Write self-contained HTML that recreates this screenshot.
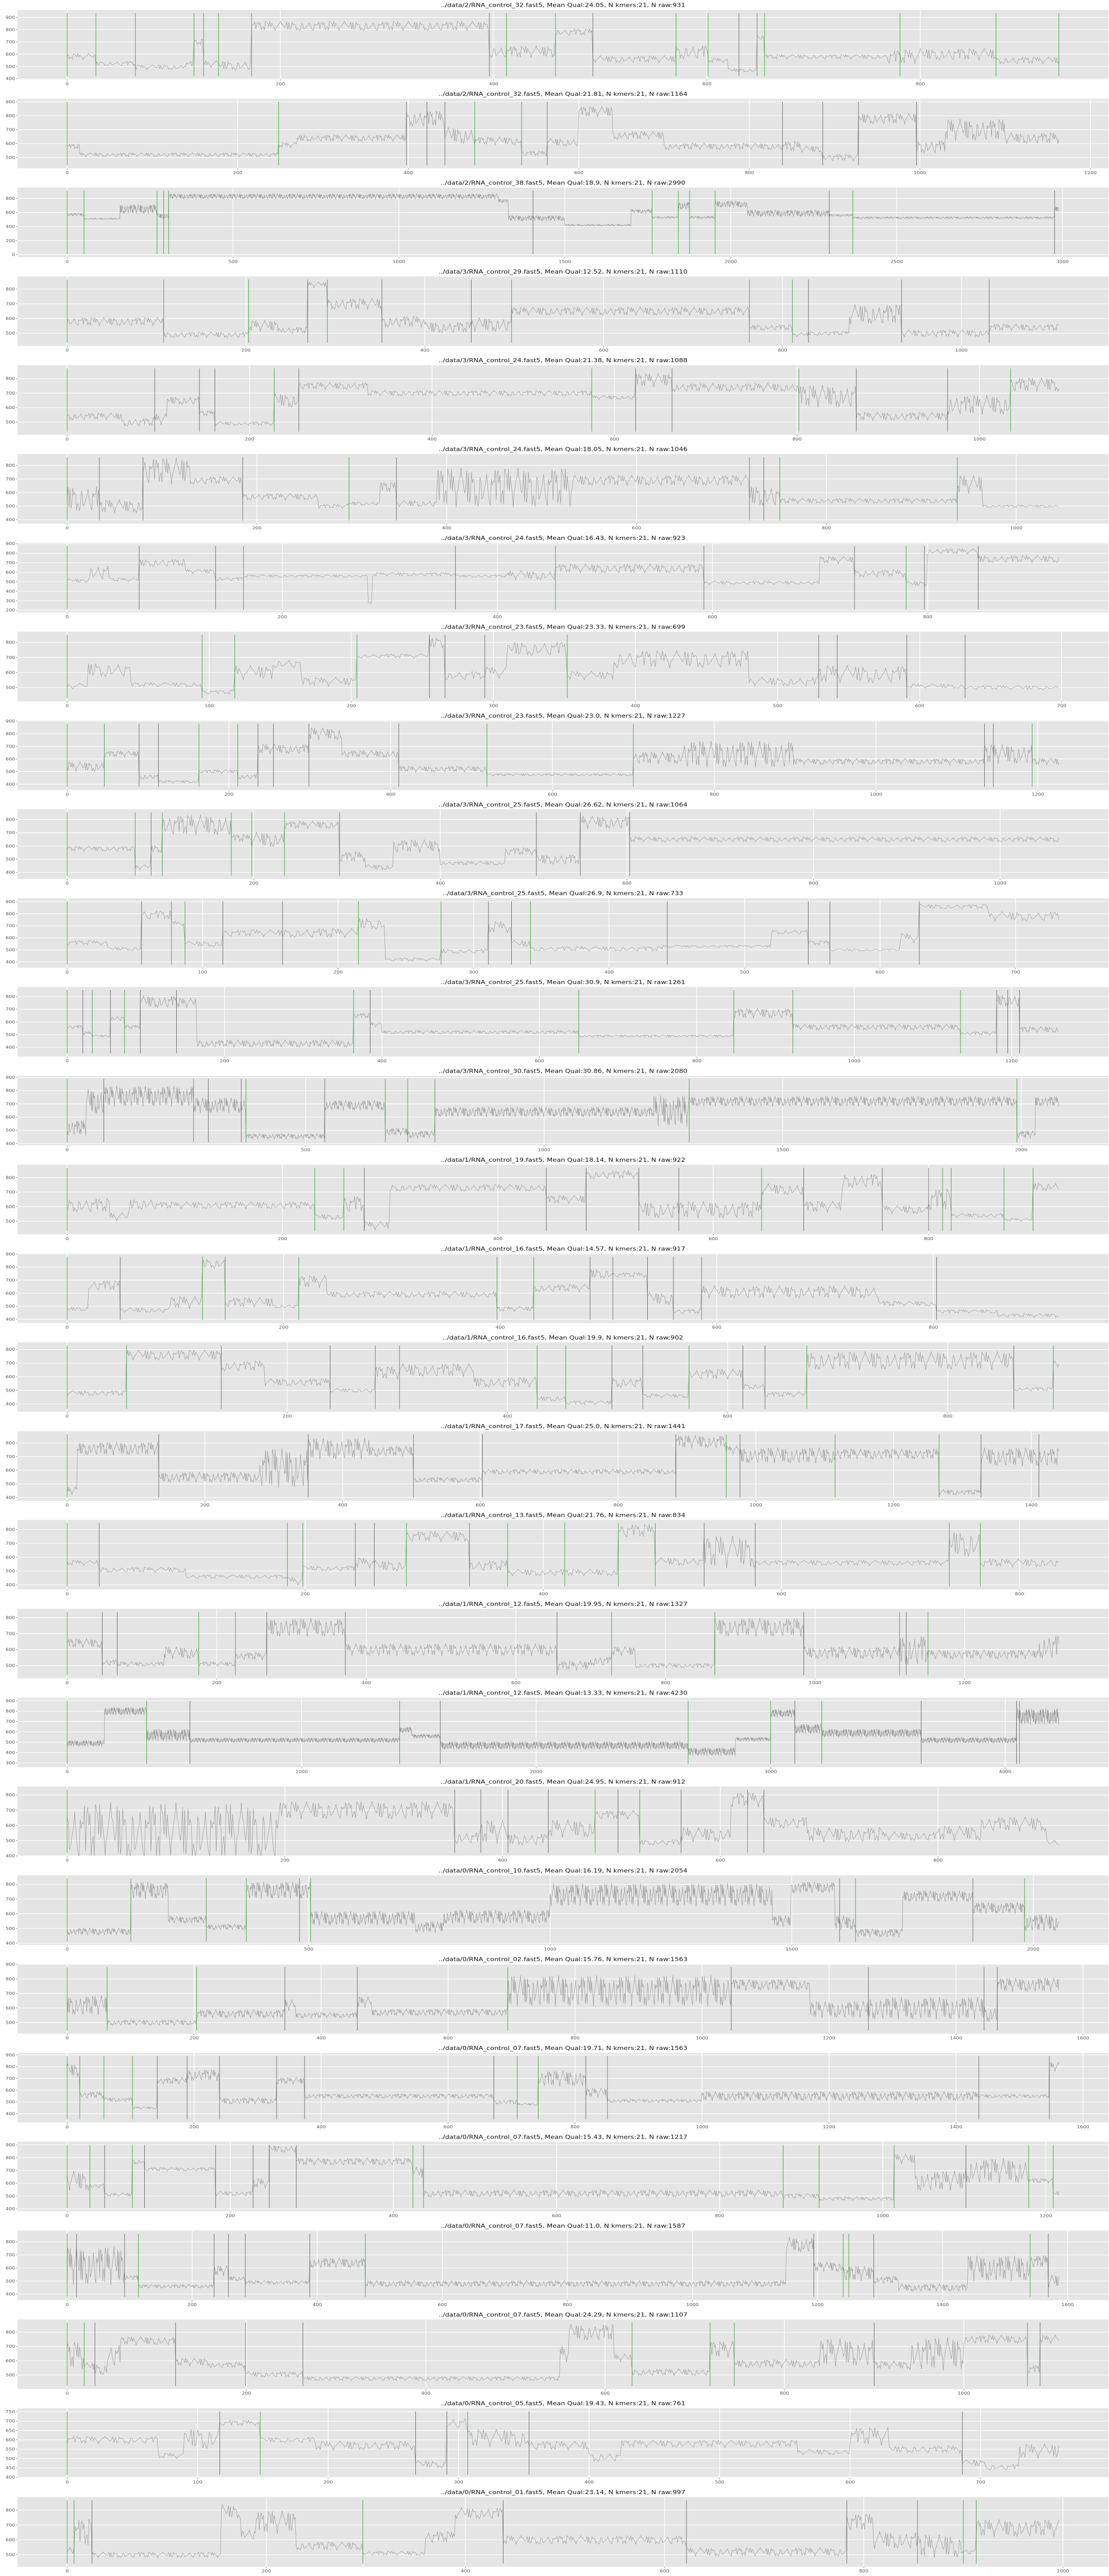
<!DOCTYPE html>
<html><head><meta charset="utf-8"><title>Raw signal per read</title>
<style>
html,body{margin:0;padding:0;background:#fff;overflow:hidden;width:100%;height:100%;}
#wrap{position:fixed;left:0;top:0;width:100vw;height:100vh;overflow:hidden;}
svg{display:block;width:100%;height:100%;}
.tl{font-family:"DejaVu Sans","Liberation Sans",sans-serif;font-size:9.5px;fill:#555;}
.tt{font-family:"DejaVu Sans","Liberation Sans",sans-serif;font-size:13px;fill:#111;}
</style></head>
<body>
<div id="wrap">
<svg id="fig" xmlns="http://www.w3.org/2000/svg" viewBox="0 0 2152 6256" preserveAspectRatio="none"></svg>
</div>
<script>
const titles=[
"../data/2/RNA_control_32.fast5, Mean Qual:24.05, N kmers:21, N raw:931",
"../data/2/RNA_control_32.fast5, Mean Qual:21.81, N kmers:21, N raw:1164",
"../data/2/RNA_control_38.fast5, Mean Qual:18.9, N kmers:21, N raw:2990",
"../data/3/RNA_control_29.fast5, Mean Qual:12.52, N kmers:21, N raw:1110",
"../data/3/RNA_control_24.fast5, Mean Qual:21.38, N kmers:21, N raw:1088",
"../data/3/RNA_control_24.fast5, Mean Qual:18.05, N kmers:21, N raw:1046",
"../data/3/RNA_control_24.fast5, Mean Qual:16.43, N kmers:21, N raw:923",
"../data/3/RNA_control_23.fast5, Mean Qual:23.33, N kmers:21, N raw:699",
"../data/3/RNA_control_23.fast5, Mean Qual:23.0, N kmers:21, N raw:1227",
"../data/3/RNA_control_25.fast5, Mean Qual:26.62, N kmers:21, N raw:1064",
"../data/3/RNA_control_25.fast5, Mean Qual:26.9, N kmers:21, N raw:733",
"../data/3/RNA_control_25.fast5, Mean Qual:30.9, N kmers:21, N raw:1261",
"../data/3/RNA_control_30.fast5, Mean Qual:30.86, N kmers:21, N raw:2080",
"../data/1/RNA_control_19.fast5, Mean Qual:18.14, N kmers:21, N raw:922",
"../data/1/RNA_control_16.fast5, Mean Qual:14.57, N kmers:21, N raw:917",
"../data/1/RNA_control_16.fast5, Mean Qual:19.9, N kmers:21, N raw:902",
"../data/1/RNA_control_17.fast5, Mean Qual:25.0, N kmers:21, N raw:1441",
"../data/1/RNA_control_13.fast5, Mean Qual:21.76, N kmers:21, N raw:834",
"../data/1/RNA_control_12.fast5, Mean Qual:19.95, N kmers:21, N raw:1327",
"../data/1/RNA_control_12.fast5, Mean Qual:13.33, N kmers:21, N raw:4230",
"../data/1/RNA_control_20.fast5, Mean Qual:24.95, N kmers:21, N raw:912",
"../data/0/RNA_control_10.fast5, Mean Qual:16.19, N kmers:21, N raw:2054",
"../data/0/RNA_control_02.fast5, Mean Qual:15.76, N kmers:21, N raw:1563",
"../data/0/RNA_control_07.fast5, Mean Qual:19.71, N kmers:21, N raw:1563",
"../data/0/RNA_control_07.fast5, Mean Qual:15.43, N kmers:21, N raw:1217",
"../data/0/RNA_control_07.fast5, Mean Qual:11.0, N kmers:21, N raw:1587",
"../data/0/RNA_control_07.fast5, Mean Qual:24.29, N kmers:21, N raw:1107",
"../data/0/RNA_control_05.fast5, Mean Qual:19.43, N kmers:21, N raw:761",
"../data/0/RNA_control_01.fast5, Mean Qual:23.14, N kmers:21, N raw:997"];
const nRaw=[931,1164,2990,1110,1088,1046,923,699,1227,1064,733,1261,2080,922,917,902,1441,834,1327,4230,912,2054,1563,1563,1217,1587,1107,761,997];
const yLow=[420,445,10,435,434,395,210,430,378,375,378,352,410,432,395,365,400,390,440,290,420,410,445,352,405,378,424,414,441];
const yHigh=[935,900,910,865,871,860,876,850,880,853,903,850,888,867,880,830,864,845,835,900,835,840,880,890,900,862,867,752,867];
const boundPos=[
[0,27,64,119,128,142,173,396,412,458,493,571,601,630,647,654,781,871,930],
[0,248,398,422,443,478,533,563,839,886,928,996],
[0,51,271,291,306,1404,1763,1842,1876,1953,2297,2368,2976],
[0,108,203,269,291,352,452,497,763,811,829,933,1031],
[0,96,145,162,227,254,575,623,663,802,865,965,1034],
[0,34,80,185,297,347,719,734,751,938],
[0,67,138,164,361,454,592,732,780,797,847],
[0,95,118,204,255,266,294,352,529,542,591,632],
[0,46,89,113,163,211,236,255,299,410,519,700,1134,1145,1193],
[0,73,90,102,176,198,233,292,503,550,603],
[0,55,77,87,115,159,215,276,311,328,342,443,547,563,629],
[0,20,32,55,73,93,139,364,385,650,847,922,1135,1181,1195,1210],
[0,77,265,296,365,375,540,667,714,771,1304,1991],
[0,230,257,276,445,482,531,568,645,684,757,800,813,821,870,897],
[0,49,125,146,214,397,431,483,504,536,560,586,803],
[0,54,140,239,280,302,427,453,495,523,565,614,634,672,860,896],
[0,133,350,503,603,884,957,977,1115,1266,1327,1411],
[0,27,185,198,242,258,285,338,370,418,463,494,535,578,741,767],
[0,47,67,176,225,267,372,655,728,866,985,1113,1122,1151],
[0,339,524,1418,1591,2648,3000,3103,3218,3642,4048,4061],
[0,356,380,405,442,485,506,526,564,625,640],
[0,132,288,371,481,504,1599,1632,1875,1982],
[0,63,204,343,457,694,1046,1262,1444,1465],
[0,20,58,103,142,189,240,330,374,672,709,742,817,851,1436,1547],
[0,28,46,80,95,182,228,248,281,424,437,878,922,1014,1102,1179,1209],
[0,15,92,114,235,258,285,388,477,1194,1241,1250,1290,1540,1569],
[0,19,31,121,199,263,630,717,744,900,1071,1085],
[0,117,148,267,291,307,354,686],
[0,7,25,297,438,622,783,854,900,913]];
const boundGreen=[
[1,1,1,1,1,1,1,0,1,1,0,1,1,0,1,1,1,1,1],
[1,1,0,0,0,1,1,0,0,0,0,0],
[1,1,1,1,1,0,1,1,1,1,0,1,0],
[1,1,1,0,1,0,0,1,1,1,0,0,0],
[1,0,0,0,1,0,1,0,0,1,0,0,1],
[1,0,0,0,1,0,1,0,1,1],
[1,0,0,1,0,1,0,0,1,0,0],
[1,1,1,1,0,0,0,1,0,0,0,0],
[1,1,0,0,1,1,0,0,0,0,1,1,0,0,1],
[1,1,0,1,1,1,1,0,0,0,0],
[1,0,1,1,0,0,1,1,0,0,1,0,0,0,0],
[1,0,1,0,1,0,0,1,0,1,1,1,1,0,0,0],
[1,0,1,0,0,1,0,1,1,1,1,1],
[1,1,1,0,0,0,0,0,1,0,0,0,1,1,1,1],
[1,0,1,1,1,1,1,0,0,0,0,1,0],
[1,1,0,0,1,1,1,1,0,0,1,0,0,1,0,1],
[1,0,0,1,0,0,1,0,1,1,0,0],
[1,0,1,1,0,0,1,0,1,1,1,1,0,0,1,1],
[1,0,0,1,1,0,0,0,1,1,0,1,0,1],
[1,1,0,1,0,1,1,0,1,0,0,1],
[1,0,0,0,0,1,0,1,0,1,0],
[1,1,1,1,0,1,0,1,0,1],
[1,1,1,0,0,1,0,0,0,0],
[1,1,1,1,0,0,0,0,0,0,1,1,0,1,0,0],
[1,1,0,1,0,0,0,0,0,1,1,1,1,1,0,1,1],
[1,0,0,1,0,0,0,0,1,0,1,1,0,1,0],
[1,1,0,0,1,0,1,1,1,0,1,0],
[1,0,1,0,0,1,0,0],
[1,1,0,1,0,0,0,1,1,1]];
const segStart=[
[0,27,64,110,119,128,142,173,396,458,493,571,601,620,647,654,770,800,871],
[0,15,248,270,398,443,478,533,563,600,640,700,839,860,886,928,996,1030,1100],
[0,51,160,271,306,1300,1330,1500,1700,1763,1842,1876,1953,2050,2297,2368,2976],
[0,108,203,240,269,291,352,400,452,497,763,811,829,875,933,1031],
[0,60,96,110,145,162,227,254,330,575,623,663,802,865,965,1034],
[0,34,80,130,185,265,297,330,347,390,535,719,751,938,965],
[0,20,40,67,110,138,164,280,284,361,410,454,592,700,732,780,800,847],
[0,15,45,95,118,145,165,204,255,266,294,310,352,385,480,529,591,632],
[0,46,89,113,163,211,236,299,340,410,519,700,760,900,1134,1193],
[0,73,90,102,176,198,233,292,320,350,400,470,503,550,603],
[0,30,55,77,87,115,159,215,235,276,311,328,342,440,520,547,563,615,629,680],
[0,20,32,55,73,93,139,165,364,385,400,650,847,922,1135,1181,1210],
[0,40,77,265,375,540,667,714,771,1230,1304,1991,2030],
[0,40,58,80,230,257,276,300,445,482,531,645,684,720,757,800,821,870,897],
[0,20,49,95,125,146,190,214,240,397,431,483,504,536,560,586,750,803,860],
[0,54,140,180,239,280,302,370,427,453,495,523,565,614,634,672,860,896],
[0,15,133,280,350,440,503,603,884,957,977,1115,1266,1327],
[0,27,100,185,198,242,258,285,338,370,463,494,535,578,741,767],
[0,47,67,130,176,225,267,372,655,700,728,760,866,985,1113,1151,1300],
[0,160,339,524,1418,1470,1591,2648,2850,3000,3103,3218,3642,4048],
[0,195,356,380,405,442,485,526,564,610,640,680,750,800,840,900],
[0,132,210,288,371,504,720,780,1000,1460,1499,1590,1632,1730,1875,1982],
[0,63,204,343,360,457,480,694,1046,1170,1262,1444,1465],
[0,20,58,103,142,189,240,330,374,672,709,742,817,851,1000,1436,1547],
[0,28,46,80,95,182,228,248,281,424,437,878,922,1014,1040,1102,1179,1209],
[0,92,114,235,258,285,388,477,1150,1194,1241,1290,1330,1440,1540,1569],
[0,19,31,45,60,121,160,199,263,550,560,610,630,717,744,840,900,940,1000,1071,1085],
[0,70,90,117,148,190,267,291,307,354,400,425,560,600,630,686,705,730],
[0,7,25,155,175,190,230,297,360,390,438,622,783,810,854,900,913]];
const segLevel=[
[580,525,495,520,700,520,510,830,620,780,560,620,550,470,740,580,580,600,550],
[580,520,590,640,780,660,620,530,610,830,660,580,580,560,500,780,580,700,640],
[570,510,650,550,830,770,520,420,620,530,700,530,720,590,560,525,650],
[580,490,550,520,830,700,580,540,560,650,540,490,500,630,500,540],
[540,500,520,650,560,490,650,750,700,670,790,740,680,540,620,760],
[560,500,760,690,570,500,520,640,520,640,690,580,540,660,500],
[510,600,520,700,610,530,560,260,580,560,570,640,490,730,590,480,820,740],
[510,620,520,470,600,660,540,710,800,580,600,760,580,690,540,590,510,500],
[540,640,460,420,500,460,680,800,640,520,475,610,640,580,640,580],
[580,440,580,760,660,650,760,520,440,600,470,560,500,780,650],
[560,510,790,720,550,640,640,720,420,490,690,550,510,530,650,560,500,600,860,780],
[560,510,490,630,560,760,750,430,650,580,520,490,670,560,510,770,540],
[520,720,760,690,455,690,490,470,640,650,720,470,720],
[610,530,620,610,530,620,470,730,650,820,580,720,600,780,580,650,540,510,740],
[480,660,470,530,830,530,500,690,590,480,640,750,740,560,460,610,520,460,430],
[480,760,680,560,500,630,650,560,440,410,560,460,620,530,470,720,510,700],
[450,760,550,620,760,740,530,590,810,750,710,720,440,700],
[560,510,460,430,520,560,540,750,540,490,790,570,640,560,700,560],
[640,520,510,580,510,560,740,600,500,530,590,500,740,580,600,570,620],
[490,800,570,520,620,560,470,410,530,780,630,590,520,750],
[560,700,520,560,510,580,670,490,540,770,620,540,530,550,610,490],
[480,760,560,510,760,570,510,580,730,550,780,540,470,720,640,540],
[620,500,560,620,550,640,570,720,760,590,600,560,760],
[770,560,520,450,680,730,510,680,550,500,480,700,580,510,550,550,800],
[620,580,510,770,710,520,600,870,770,680,520,500,480,790,620,700,620,520],
[620,530,460,580,520,490,640,480,780,610,560,510,450,600,650,500],
[640,560,540,640,740,590,570,505,475,650,800,620,520,680,580,660,570,650,750,540,750],
[600,515,610,690,600,570,470,690,610,570,510,580,535,620,550,475,455,540],
[530,650,500,790,640,720,560,510,620,780,600,520,720,600,560,520,680]];
const segNoise=[
[25,20,20,25,25,30,40,40,50,30,30,60,20,15,20,20,60,50,30],
[20,15,20,25,60,60,30,20,30,40,30,25,40,25,25,40,50,80,40],
[20,10,70,40,40,30,40,15,30,15,60,20,50,50,15,15,40],
[30,20,40,25,20,40,40,40,50,30,20,15,15,70,25,25],
[25,30,40,30,20,15,50,25,20,15,50,30,80,30,70,50],
[100,50,100,30,25,15,15,40,25,150,40,80,20,70,10],
[20,80,20,40,25,20,15,30,20,15,50,50,20,40,40,30,30,40],
[20,50,15,15,50,30,30,15,40,30,40,50,30,60,30,60,15,15],
[40,25,20,10,15,20,40,50,30,25,10,50,110,25,80,30],
[20,20,30,80,30,60,30,40,20,50,15,30,40,50,20],
[20,15,40,20,25,30,40,50,15,20,50,30,20,10,20,20,10,40,20,40],
[15,15,10,20,15,50,40,30,20,20,15,10,40,25,15,50,25],
[60,100,80,60,20,40,30,30,40,120,40,30,40],
[50,30,40,25,20,60,30,25,30,30,60,40,40,50,30,80,15,10,30],
[15,40,20,50,40,40,15,50,25,20,30,40,20,50,20,50,20,15,15],
[20,40,40,30,15,50,50,40,20,15,40,15,40,20,20,70,15,30],
[30,50,40,150,80,40,20,20,50,30,60,40,20,70],
[20,20,15,30,20,40,40,40,40,25,50,30,120,20,100,30],
[30,20,15,40,15,25,60,40,30,30,30,15,60,40,100,30,80],
[30,40,60,25,30,20,40,40,20,40,50,40,30,80],
[200,60,40,80,40,60,30,20,50,50,40,50,30,50,50,20],
[25,60,25,20,60,50,40,50,80,40,40,50,30,40,40,60],
[70,20,30,40,20,40,25,110,40,60,80,60,50],
[60,30,20,10,30,50,30,30,20,20,10,70,40,15,40,15,40],
[80,20,15,20,15,20,40,30,30,50,30,20,15,40,80,100,20,20],
[150,20,15,40,20,15,40,25,60,40,60,30,30,100,50,50],
[100,30,40,80,30,30,20,20,15,60,60,30,25,60,30,100,30,120,30,30,30],
[20,15,60,15,15,25,20,30,50,25,25,20,15,50,20,20,15,40],
[30,100,20,50,40,80,30,15,40,40,30,30,60,60,80,20,60]];
const texture=[0.2,-0.5,0.8,-0.1,0.4,-0.9,0.3,0.6,-0.3,-0.7,0.9,0.1,-0.4,0.5,-0.8,0.0,0.7,-0.2,0.3,-0.6,0.95,-0.35,0.15,-0.75,0.55,0.25,-0.95,0.45,-0.15,0.65,-0.45,0.05,0.85,-0.55,0.35,-0.85,0.1,0.75,-0.25,-0.65,0.5,-0.05,0.9,-0.4,0.2,-1.0,0.6,0.3,-0.3,0.7,-0.7,0.4,-0.2,0.8,-0.6,0.0,0.55,-0.9,0.25,-0.1];

const NS="http://www.w3.org/2000/svg";
const fig=document.getElementById('fig');
const PANEL_H=6256/titles.length;
const PL=34, PR=2151, PT=24, PB=193;
function mk(tag,attrs,parent){const e=document.createElementNS(NS,tag);for(const k in attrs)e.setAttribute(k,attrs[k]);parent.appendChild(e);return e;}
function pickStep(span,opts,maxN){for(const s of opts){if(span/s<=maxN)return s;}return opts[opts.length-1];}

for(let p=0;p<titles.length;p++){
  const off=p*PANEL_H;
  const g=mk('g',{transform:'translate(0,'+off.toFixed(2)+')'},fig);
  
  
  const n=nRaw[p];
  const xmin=-0.05*(n-1), xmax=1.05*(n-1);
  const r=yHigh[p]-yLow[p];
  const ymin=yLow[p]-0.05*r, ymax=yHigh[p]+0.05*r;
  const X=v=>PL+(v-xmin)/(xmax-xmin)*(PR-PL);
  const Y=v=>PB-(v-ymin)/(ymax-ymin)*(PB-PT);
  const bg=mk('rect',{x:PL,y:PT,width:PR-PL,height:PB-PT,fill:'#e5e5e5'},g);
  
  
  const t=mk('text',{x:(PL+PR)/2,y:17,'text-anchor':'middle',class:'tt'},g);
  t.textContent=titles[p];
  
  
  const ys=pickStep(ymax-ymin,[50,100,200,250,500],8);
  for(let v=Math.ceil(ymin/ys)*ys;v<=ymax;v+=ys){
    const yy=Y(v);
    const gl=mk('line',{x1:PL,x2:PR,y1:yy,y2:yy,stroke:'#fff','stroke-width':1.4},g);
    
    
    mk('line',{x1:PL-3,x2:PL,y1:yy,y2:yy,stroke:'#555','stroke-width':0.8},g);
    const tl=mk('text',{x:PL-5,y:yy+3.5,'text-anchor':'end',class:'tl'},g);
    tl.textContent=String(v);
    
    
  }
  const xs=pickStep(xmax-xmin,[100,200,500,1000,2000],9);
  for(let v=Math.ceil(xmin/xs)*xs;v<=xmax;v+=xs){
    const xx=X(v);
    const gl=mk('line',{x1:xx,x2:xx,y1:PT,y2:PB,stroke:'#fff','stroke-width':1.4},g);
    
    
    mk('line',{x1:xx,x2:xx,y1:PB,y2:PB+3,stroke:'#555','stroke-width':0.8},g);
    const tl=mk('text',{x:xx,y:PB+14,'text-anchor':'middle',class:'tl'},g);
    tl.textContent=String(v);
    
    
  }
  const st=segStart[p], lv=segLevel[p], nz=segNoise[p];
  let seg=0, d='';
  for(let i=0;i<n;i++){
    while(seg+1<st.length && i>=st[seg+1]) seg++;
    let v=lv[seg]+nz[seg]*texture[(i*7+p*11)%texture.length];
    if(v<ymin)v=ymin; if(v>ymax)v=ymax;
    d+=(i?'L':'M')+X(i).toFixed(1)+' '+Y(v).toFixed(1);
  }
  const tr=mk('path',{d:d,fill:'none',stroke:'#9a9a9a','stroke-width':0.8},g);
  
  
  const bp=boundPos[p], bgn=boundGreen[p];
  for(let k=0;k<bp.length;k++){
    const xx=X(bp[k]);
    const vl=mk('line',{x1:xx,x2:xx,y1:Y(yHigh[p]),y2:Y(yLow[p]),stroke:bgn[k]?'#3aa63a':'#4a4a4a','stroke-width':bgn[k]?1:0.8},g);
    
    
  }
}
</script>
</body></html>
